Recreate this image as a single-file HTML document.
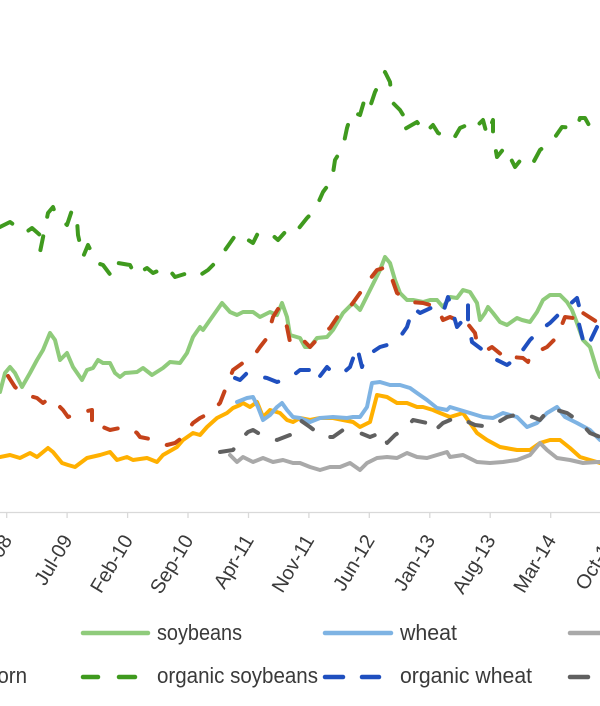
<!DOCTYPE html>
<html>
<head>
<meta charset="utf-8">
<style>
html,body{margin:0;padding:0;background:#fff;}
svg{display:block;}
text{font-family:"Liberation Sans",sans-serif;fill:#3a3a3a;}
</style>
</head>
<body>
<svg width="600" height="706" viewBox="0 0 600 706" xmlns="http://www.w3.org/2000/svg">
<rect width="600" height="706" fill="#fff"/>
<!-- axis -->
<line x1="0" y1="512.5" x2="600" y2="512.5" stroke="#D9D9D9" stroke-width="1.3"/>
<g stroke="#D9D9D9" stroke-width="1.3">
<line x1="6.7" y1="512" x2="6.7" y2="518"/>
<line x1="67.1" y1="512" x2="67.1" y2="518"/>
<line x1="127.6" y1="512" x2="127.6" y2="518"/>
<line x1="188.0" y1="512" x2="188.0" y2="518"/>
<line x1="248.5" y1="512" x2="248.5" y2="518"/>
<line x1="308.9" y1="512" x2="308.9" y2="518"/>
<line x1="369.3" y1="512" x2="369.3" y2="518"/>
<line x1="429.8" y1="512" x2="429.8" y2="518"/>
<line x1="490.2" y1="512" x2="490.2" y2="518"/>
<line x1="550.7" y1="512" x2="550.7" y2="518"/>
</g>
<g font-size="20" text-anchor="end">
<text transform="translate(12.7,540) rotate(-59)">Dec-08</text>
<text transform="translate(73.1,540) rotate(-59)">Jul-09</text>
<text transform="translate(133.6,540) rotate(-59)">Feb-10</text>
<text transform="translate(194,540) rotate(-59)">Sep-10</text>
<text transform="translate(254.5,540) rotate(-59)">Apr-11</text>
<text transform="translate(314.9,540) rotate(-59)">Nov-11</text>
<text transform="translate(375.3,540) rotate(-59)">Jun-12</text>
<text transform="translate(435.8,540) rotate(-59)">Jan-13</text>
<text transform="translate(496.2,540) rotate(-59)">Aug-13</text>
<text transform="translate(556.7,540) rotate(-59)">Mar-14</text>
<text transform="translate(617.1,540) rotate(-59)">Oct-14</text>
</g>

<g fill="none" stroke-linejoin="round" stroke-linecap="round">
<!-- corn -->
<polyline stroke="#FFB000" stroke-width="4" points="0,457 10,455 20,458 30,453 37,457 48,448 53,452 62,463 68,465 75,467 87,458 100,455 110,452 117,460 127,457 133,460 147,458 157,462 163,455 177,447 183,440 193,433 200,435 207,427 217,418 227,413 233,408 240,405 243,403 250,407 257,402 263,417 270,410 280,413 287,420 293,422 300,418 310,420 320,418 333,418 343,420 353,422 360,427 370,422 377,395 387,397 397,403 407,403 417,407 423,407 433,410 440,413 450,417 463,413 470,423 477,433 487,440 500,447 517,450 530,450 540,443 550,440 560,440 570,448 580,457 590,460 600,463"/>
<!-- soybeans -->
<polyline stroke="#8FCB7B" stroke-width="4" points="0,392 5,373 10,367 15,373 22,387 30,373 37,360 43,350 50,333 55,340 60,360 67,353 73,367 82,380 87,370 93,368 98,360 103,363 110,363 115,373 120,377 125,373 137,372 143,368 152,375 163,368 170,362 180,363 187,353 193,337 200,327 203,330 210,320 222,303 230,312 237,315 243,312 253,312 260,317 270,312 277,315 282,303 287,317 290,335 300,338 305,347 310,347 317,338 327,337 333,330 343,313 353,303 360,310 370,290 380,270 385,257 390,263 395,280 400,293 407,300 413,300 423,302 430,300 437,300 443,307 450,297 457,298 463,290 470,292 477,303 480,320 485,313 488,307 493,313 500,322 507,325 517,318 522,320 530,322 537,312 543,300 550,295 560,295 567,302 572,310 577,323 583,340 590,347 597,370 600,377"/>
<!-- wheat -->
<polyline stroke="#7EB3E3" stroke-width="4" points="237,402 247,398 253,397 258,407 263,420 270,415 277,407 282,403 287,410 293,417 300,418 310,422 320,418 333,417 347,418 353,417 360,417 367,407 372,383 380,382 390,385 400,385 410,388 417,393 427,400 437,408 447,410 450,407 460,410 470,413 483,417 493,418 503,413 517,417 527,427 537,423 547,413 557,407 565,417 577,423 590,430 600,440"/>
<!-- gray solid -->
<polyline stroke="#A9A9A9" stroke-width="4" points="230,455 237,462 243,457 253,462 263,458 273,462 283,460 293,463 300,463 310,467 320,470 330,467 340,467 350,463 360,470 367,463 377,458 387,457 397,458 407,453 417,457 427,458 437,455 447,452 450,457 463,455 477,462 490,463 503,462 517,460 530,455 540,443 547,450 557,458 570,460 583,463 597,462 600,462"/>
<!-- organic corn -->
<polyline stroke="#C5421A" stroke-width="4" stroke-dasharray="14 20" points="8,376 15,387 22,393 30,396 37,398 43,403 50,398 57,404 63,410 68,417 73,415 83,412 92,410 92,427 98,425 110,430 120,428 130,428 137,433 140,437 155,440 167,445 175,443 183,437 193,423 200,418 210,413 220,403 227,385 233,370 240,365 247,360 253,357 260,347 267,338 273,317 278,309 282,312 287,327 290,342 300,337 310,347 323,333 330,328 340,313 350,307 360,293 367,283 377,270 387,267 390,273 397,293 403,297 410,302 423,303 437,307 443,320 450,317 457,320 463,318 475,333 477,343 487,350 492,347 508,360 512,357 523,358 528,362 530,355 547,347 557,337 565,317 573,318 580,323 583,313 597,322 600,322"/>
<!-- organic soybeans -->
<polyline stroke="#3F9A1E" stroke-width="4" stroke-dasharray="14 20" points="0,227 10,222 25,233 32,228 40,235 40,252 48,213 53,207 55,213 67,225 72,210 77,220 78,235 83,257 88,245 97,263 103,265 112,277 118,263 130,265 135,275 147,268 153,273 167,267 175,277 188,273 197,277 208,270 218,260 230,243 237,233 253,243 258,233 270,233 278,240 287,230 295,233 307,218 315,210 323,192 332,180 335,160 343,147 347,128 352,112 360,115 365,98 370,107 375,92 385,72 390,82 392,102 400,110 405,118 403,130 417,122 425,133 433,125 438,133 453,140 460,128 467,125 473,130 483,120 487,135 493,120 493,135 497,157 505,147 515,167 523,157 533,163 540,150 553,140 562,127 577,128 580,118 585,118 590,127 600,132"/>
<!-- organic wheat -->
<polyline stroke="#1F4FBF" stroke-width="4" stroke-dasharray="14 20" points="235,378 240,380 247,373 257,376 267,378 277,382 290,378 300,370 313,370 317,380 327,367 333,373 343,373 350,367 357,347 362,367 365,357 380,347 387,345 400,337 407,327 413,308 420,313 433,307 443,313 448,297 450,303 457,327 463,320 468,305 468,320 472,342 480,348 493,358 507,365 517,358 530,340 540,330 550,323 560,313 577,298 580,310 578,320 583,340 587,348 597,327 598,340 600,340"/>
<!-- organic gray -->
<polyline stroke="#606060" stroke-width="4" stroke-dasharray="14 20" points="220,452 233,450 240,440 248,432 253,430 258,433 270,438 277,440 290,435 300,420 310,427 323,437 333,437 343,430 360,433 370,437 383,432 387,443 395,435 407,427 413,420 427,423 433,432 443,423 450,420 457,417 475,425 490,427 507,417 523,413 540,420 550,408 567,413 580,422 590,433 600,437"/>
</g>

<!-- legend -->
<g stroke-linecap="round" stroke-width="4.5">
<line x1="83" y1="633" x2="148" y2="633" stroke="#8FCB7B"/>
<line x1="325" y1="633" x2="391" y2="633" stroke="#7EB3E3"/>
<line x1="570" y1="633" x2="640" y2="633" stroke="#A9A9A9"/>
<line x1="83" y1="677" x2="98" y2="677" stroke="#3F9A1E"/>
<line x1="119" y1="677" x2="135" y2="677" stroke="#3F9A1E"/>
<line x1="325" y1="677" x2="343" y2="677" stroke="#1F4FBF"/>
<line x1="362" y1="677" x2="379" y2="677" stroke="#1F4FBF"/>
<line x1="570" y1="677" x2="588" y2="677" stroke="#606060"/>
</g>
<g font-size="22.5">
<text x="157" y="640" textLength="85" lengthAdjust="spacingAndGlyphs">soybeans</text>
<text x="400" y="640" textLength="57" lengthAdjust="spacingAndGlyphs">wheat</text>
<text x="-86" y="683" textLength="113" lengthAdjust="spacingAndGlyphs">organic corn</text>
<text x="157" y="683" textLength="161" lengthAdjust="spacingAndGlyphs">organic soybeans</text>
<text x="400" y="683" textLength="132" lengthAdjust="spacingAndGlyphs">organic wheat</text>
</g>
</svg>
</body>
</html>
